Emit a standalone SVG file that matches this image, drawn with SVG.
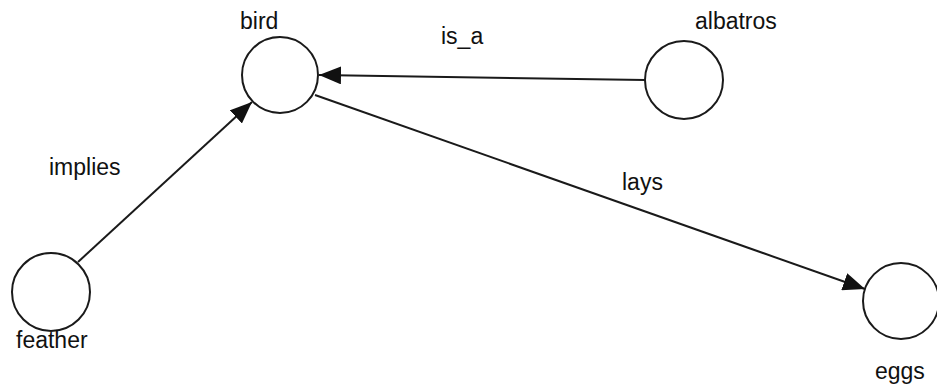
<svg xmlns="http://www.w3.org/2000/svg" width="937" height="387" viewBox="0 0 937 387">
<style>
.node{fill:#fff;stroke:#1a1a1a;stroke-width:2}
.edge{fill:none;stroke:#1a1a1a;stroke-width:2}
text{font-family:"Liberation Sans",Arial,sans-serif;font-size:23px;fill:#111}
</style>
<defs>
<marker id="arr" markerUnits="userSpaceOnUse" markerWidth="24" markerHeight="18" refX="22" refY="9" orient="auto">
<path d="M0,0 L22,9 L0,18 z" fill="#111"/>
</marker>
</defs>
<rect width="937" height="387" fill="#fff"/>
<g id="connectors">
<g id="e-isa"><line class="edge" x1="645" y1="80" x2="319" y2="75" marker-end="url(#arr)"/><text x="441" y="44">is_a</text></g>
<g id="e-implies"><line class="edge" x1="78" y1="262" x2="252" y2="102" marker-end="url(#arr)"/><text x="49" y="175">implies</text></g>
<g id="e-lays"><line class="edge" x1="315" y1="95" x2="865" y2="289" marker-end="url(#arr)"/><text x="622" y="190">lays</text></g>
</g>
<g id="bird"><circle class="node" cx="280" cy="75" r="38"/><text x="240" y="29">bird</text></g>
<g id="albatros"><circle class="node" cx="684" cy="80" r="39"/><text x="695" y="29">albatros</text></g>
<g id="feather"><circle class="node" cx="51" cy="292" r="39"/><text x="16" y="348">feather</text></g>
<g id="eggs"><circle class="node" cx="901" cy="301" r="38"/><text x="875" y="379">eggs</text></g>
</svg>
